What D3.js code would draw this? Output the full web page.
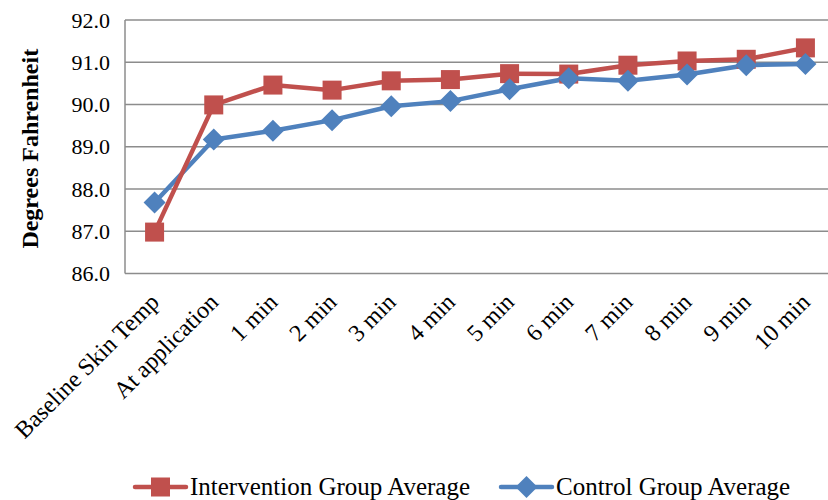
<!DOCTYPE html>
<html>
<head>
<meta charset="utf-8">
<script src="https://cdn.jsdelivr.net/npm/d3@7"></script>
<style>
  html, body { margin: 0; padding: 0; background: #fff; }
  svg { display: block; }
  text { font-family: "Liberation Serif", "Times New Roman", serif; fill: #000; }
</style>
</head>
<body>
<svg id="chart" width="828" height="500"></svg>
<script>
// Time points along the x axis
const categories = ["Baseline Skin Temp", "At application", "1 min", "2 min", "3 min", "4 min",
                    "5 min", "6 min", "7 min", "8 min", "9 min", "10 min"];
// Average skin temperature (°F) per group
const intervention = [86.98, 89.99, 90.46, 90.34, 90.56, 90.59, 90.73, 90.72, 90.93, 91.03, 91.07, 91.34];
const control      = [87.68, 89.17, 89.38, 89.63, 89.96, 90.08, 90.36, 90.62, 90.56, 90.71, 90.93, 90.96];
const yTicks = [86, 87, 88, 89, 90, 91, 92];
const seriesNames = ["Intervention Group Average", "Control Group Average"];

const red = "#C0504D", blue = "#4F81BD", grid = "#8c8c8c";

const svg = d3.select("#chart");
const plot = { left: 125, right: 835, top: 20, bottom: 273.5 };

const x = d3.scaleBand().domain(categories).range([plot.left, plot.right]);
const y = d3.scaleLinear().domain([86, 92]).range([plot.bottom, plot.top]);
const cx = d => x(d) + x.bandwidth() / 2;

// Horizontal gridlines
svg.append("g").selectAll("line").data(yTicks).join("line")
  .attr("x1", plot.left).attr("x2", plot.right)
  .attr("y1", d => y(d)).attr("y2", d => y(d))
  .attr("stroke", grid).attr("stroke-width", 1.5);

// Vertical axis line
svg.append("line")
  .attr("x1", plot.left).attr("x2", plot.left)
  .attr("y1", plot.top).attr("y2", plot.bottom)
  .attr("stroke", grid).attr("stroke-width", 1.5);

// Y tick labels
const yAxis = d3.axisLeft(y).tickValues(yTicks).tickFormat(d3.format(".1f")).tickSize(0).tickPadding(15);
const yg = svg.append("g").attr("transform", `translate(${plot.left},0)`).call(yAxis);
yg.select(".domain").remove();
yg.selectAll("text").attr("font-size", 22).attr("font-family", "Liberation Serif").attr("fill", "#000");

// Y axis title
svg.append("text")
  .attr("transform", `translate(38,${(plot.top + plot.bottom) / 2 + 2}) rotate(-90)`)
  .attr("text-anchor", "middle")
  .attr("font-size", 24).attr("font-weight", "bold")
  .text("Degrees Fahrenheit");

// X category labels, rotated
const xAxis = d3.axisBottom(x).tickSize(0).tickPadding(0);
const xg = svg.append("g").attr("transform", `translate(0,${plot.bottom})`).call(xAxis);
xg.select(".domain").remove();
xg.selectAll("text")
  .attr("font-size", 24).attr("font-family", "Liberation Serif").attr("fill", "#000")
  .attr("text-anchor", "end")
  .attr("dy", 0)
  .attr("transform", "translate(6,30) rotate(-45)");

const line = d3.line().x((d, i) => cx(categories[i])).y(d => y(d));

// Control series (drawn first, below intervention)
svg.append("path").datum(control)
  .attr("d", line).attr("fill", "none")
  .attr("stroke", blue).attr("stroke-width", 4.5).attr("stroke-linejoin", "round");
// Intervention series
svg.append("path").datum(intervention)
  .attr("d", line).attr("fill", "none")
  .attr("stroke", red).attr("stroke-width", 4.5).attr("stroke-linejoin", "round");

const sq = 19, dm = 11;
const diamondPath = `M0,${-dm}L${dm},0L0,${dm}L${-dm},0Z`;

svg.append("g").selectAll("rect").data(intervention).join("rect")
  .attr("x", (d, i) => cx(categories[i]) - sq / 2)
  .attr("y", d => y(d) - sq / 2)
  .attr("width", sq).attr("height", sq)
  .attr("fill", red);

svg.append("g").selectAll("path").data(control).join("path")
  .attr("transform", (d, i) => `translate(${cx(categories[i])},${y(d)})`)
  .attr("d", diamondPath)
  .attr("fill", blue);

// Legend
const legendY = 487;
const legend = [
  { name: seriesNames[0], color: red, x0: 135, marker: "square" },
  { name: seriesNames[1], color: blue, x0: 501, marker: "diamond" }
];
legend.forEach(l => {
  const g = svg.append("g").attr("transform", `translate(${l.x0},${legendY})`);
  g.append("line").attr("x1", 0).attr("x2", 51).attr("y1", 0).attr("y2", 0)
    .attr("stroke", l.color).attr("stroke-width", 4.5).attr("stroke-linecap", "round");
  if (l.marker === "square") {
    g.append("rect").attr("x", 25.5 - sq / 2).attr("y", -sq / 2).attr("width", sq).attr("height", sq).attr("fill", l.color);
  } else {
    g.append("path").attr("transform", "translate(25.5,0)").attr("d", diamondPath).attr("fill", l.color);
  }
  g.append("text").attr("x", 55).attr("y", 8).attr("font-size", 25).text(l.name);
});
</script>
</body>
</html>
